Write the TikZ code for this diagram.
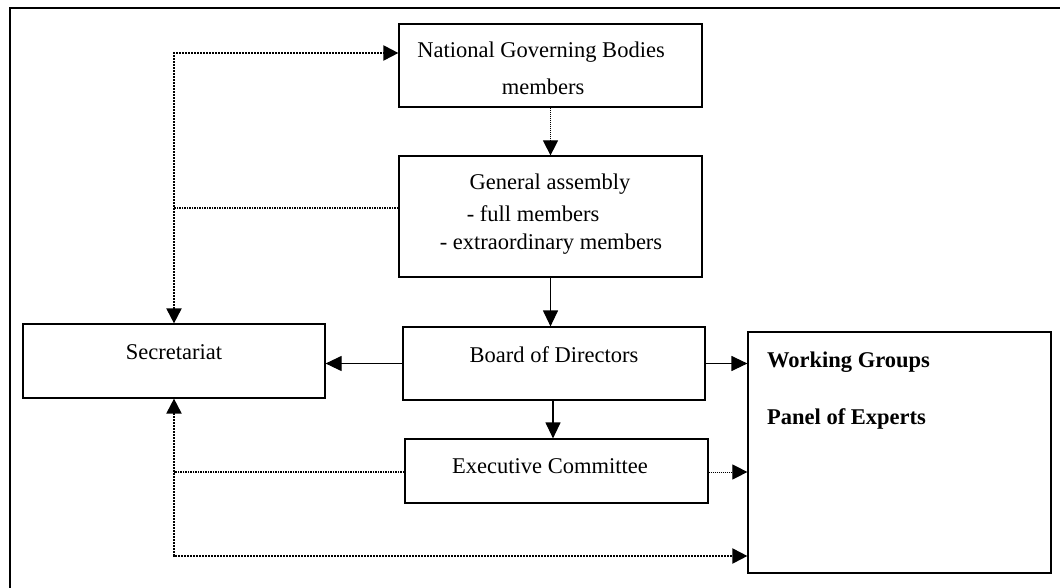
\documentclass[tikz,border=0pt]{standalone}
\usepackage{fontspec}
\setmainfont{Liberation Serif}
\usetikzlibrary{arrows.meta, positioning}

\tikzset{
  box/.style={draw, line width=1.2pt, minimum width=303pt, inner sep=0pt},
  lbl/.style={inner sep=0pt, anchor=base, font=\fontsize{22.5}{27}\selectfont},
  boldlbl/.style={inner sep=0pt, anchor=base west, font=\fontsize{22.5}{27}\selectfont\bfseries},
  solidarr/.style={line width=1.2pt, -{Triangle[length=16pt,width=15pt]}},
  bus/.style={line width=2pt, densely dotted},
  thinbus/.style={line width=1.5pt, densely dotted},
  thindot/.style={line width=1pt, densely dotted},
  tip/.style={-{Triangle[length=15pt,width=15pt]}},
  twotips/.style={{Triangle[length=15pt,width=15pt]}-{Triangle[length=15pt,width=15pt]}}
}

\begin{document}
\begin{tikzpicture}[x=1pt, y=-1pt]
  \useasboundingbox (0,0) rectangle (1060,588);
  % outer frame
  \draw[line width=2pt] (10,588) -- (10,8) -- (1060,8);

  % boxes
  \node[box, minimum height=83pt] (ngb) at (550.5,65.5) {};
  \node[box, minimum height=121pt] (ga) at (550.5,216.5) {};
  \node[box, minimum width=302pt, minimum height=73pt] (bod) at (554,363.5) {};
  \node[box, minimum width=302pt, minimum height=74pt] (sec) at (174,361) {};
  \node[box, minimum height=64pt] (exe) at (556.5,471) {};
  \node[box, minimum height=241pt] (wg) at (899.5,452.5) {};

  % texts
  \node[lbl] (ngbtop) at (541,58) {National Governing Bodies};
  \node[lbl] (ngbbot) at (543,95) {members};
  \node[lbl] (gatitle) at (550,190) {General assembly};
  \node[lbl] (gafull) at (533,222) {- full members};
  \node[lbl] (gaextra) at (551,250) {- extraordinary members};
  \node[lbl] (bodtxt) at (554,362) {Board of Directors};
  \node[lbl] (sectxt) at (174,359) {Secretariat};
  \node[lbl] (exetxt) at (550,473) {Executive Committee};
  \node[boldlbl] (wgtxt) at (767,367) {Working Groups};
  \node[boldlbl] (pextxt) at (767,424) {Panel of Experts};

  % solid links
  \draw[solidarr] (ga.south) -- (ga.south |- bod.north);
  \draw[solidarr] (bod.west) -- (bod.west -| sec.east);
  \draw[solidarr] (bod.east) -- (bod.east -| wg.west);
  \draw[solidarr] ([xshift=-1pt]bod.south) -- ([xshift=-1pt]bod.south |- exe.north);

  % dotted links
  \coordinate (topbend) at (174,53);
  \coordinate (gajoin) at (174,208);
  \coordinate (exejoin) at (174,472);
  \coordinate (botbend) at (174,556);
  \draw[thindot, tip] (ngb.south) -- (ga.north);
  \draw[bus, twotips] (sec.north) -- (topbend) -- (topbend -| ngb.west);
  \draw[thinbus] (ga.west |- gajoin) -- (gajoin);
  \draw[thinbus] (exe.west |- exejoin) -- (exejoin);
  \draw[bus, twotips] (sec.south) -- (botbend) -- (botbend -| wg.west);
  \draw[thindot, tip] (exe.east |- exejoin) -- (exejoin -| wg.west);
\end{tikzpicture}
\end{document}
